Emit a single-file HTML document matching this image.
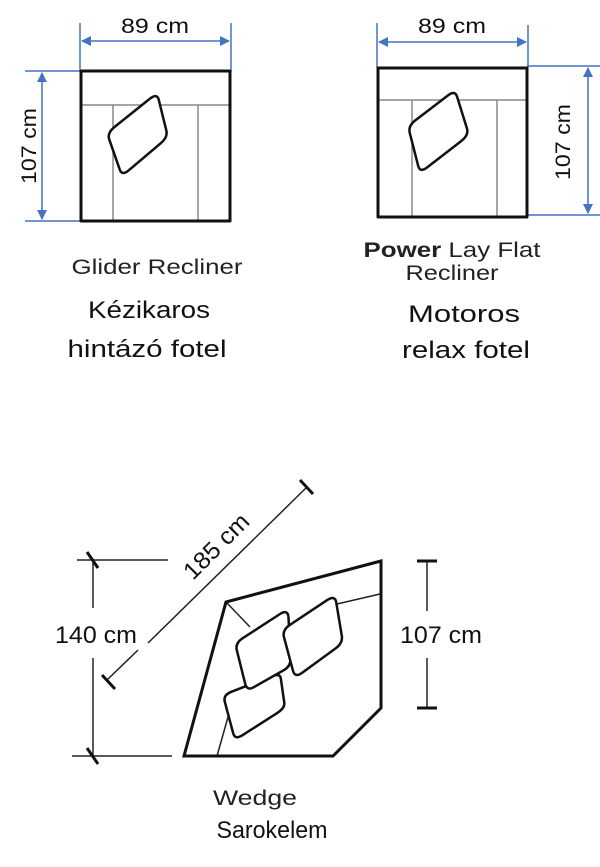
<!DOCTYPE html>
<html><head><meta charset="utf-8"><style>
html,body{margin:0;padding:0;background:#fff;}
svg{display:block;}
.a{font-family:"Liberation Sans",Arial,sans-serif;}
</style></head><body>
<svg width="600" height="867" viewBox="0 0 600 867" xmlns="http://www.w3.org/2000/svg">
<defs>
<marker id="ar" markerWidth="10" markerHeight="10" refX="9" refY="5" orient="auto-start-reverse" markerUnits="userSpaceOnUse">
<path d="M0,0 L10,5 L0,10 Z" fill="#4472c4"/></marker>
</defs>
<g fill="none" stroke="#4472c4" stroke-width="1.5">
<line x1="80" y1="23" x2="80" y2="72"/><line x1="231" y1="23" x2="231" y2="72"/>
<line x1="82" y1="41" x2="229" y2="41" marker-start="url(#ar)" marker-end="url(#ar)"/>
<line x1="25" y1="71" x2="98" y2="71"/><line x1="25" y1="221" x2="98" y2="221"/>
<line x1="42" y1="73" x2="42" y2="219" marker-start="url(#ar)" marker-end="url(#ar)"/>
<line x1="377" y1="23" x2="377" y2="68"/><line x1="528" y1="25" x2="528" y2="68"/>
<line x1="379" y1="42" x2="526" y2="42" marker-start="url(#ar)" marker-end="url(#ar)"/>
<line x1="527" y1="66" x2="600" y2="66"/><line x1="527" y1="215" x2="600" y2="215"/>
<line x1="588" y1="68" x2="588" y2="213" marker-start="url(#ar)" marker-end="url(#ar)"/>
</g>
<g fill="none" stroke="#888" stroke-width="1.5">
<line x1="81" y1="105" x2="230" y2="105"/><line x1="113" y1="105" x2="113" y2="221"/><line x1="198" y1="105" x2="198" y2="221"/>
<line x1="378" y1="100" x2="527" y2="100"/><line x1="412" y1="100" x2="412" y2="217"/><line x1="497" y1="100" x2="497" y2="217"/>
</g>
<g fill="none" stroke="#111" stroke-width="3" stroke-linejoin="round">
<rect x="81" y="71" width="149" height="150"/>
<rect x="378" y="68" width="149" height="149"/>
</g>
<g fill="#fff" stroke="#111" stroke-width="2.5" stroke-linejoin="round">
<path d="M114.5,127 L149.5,99 Q157,93 158.7,99.6 L166.3,130.4 Q168,137 161.1,142.9 L128.9,170.2 Q122,176 119.75,169.55 L109.25,139.45 Q107,133 114.5,127Z"/>
<path d="M415,120.6 L448,95.4 Q455,90 457.1,96.75 L466.9,128.25 Q469,135 461.65,140.7 L427.35,167.3 Q420,173 418.2,165.95 L409.8,133.05 Q408,126 415,120.6Z"/>
</g>
<g class="a" font-size="21" fill="#111" text-anchor="middle" lengthAdjust="spacingAndGlyphs">
<text x="155" y="33" textLength="68" lengthAdjust="spacingAndGlyphs">89 cm</text>
<text x="452" y="33" textLength="68" lengthAdjust="spacingAndGlyphs">89 cm</text>
<text transform="translate(36,146) rotate(-90)" textLength="76" lengthAdjust="spacingAndGlyphs">107 cm</text>
<text transform="translate(570,142) rotate(-90)" textLength="76" lengthAdjust="spacingAndGlyphs">107 cm</text>
</g>
<g class="a" font-size="21" fill="#222" text-anchor="middle">
<text x="157" y="274" textLength="171" lengthAdjust="spacingAndGlyphs">Glider Recliner</text>
<text x="452" y="257" textLength="177" lengthAdjust="spacingAndGlyphs"><tspan font-weight="bold">Power</tspan> Lay Flat</text>
<text x="452" y="280" textLength="93" lengthAdjust="spacingAndGlyphs">Recliner</text>
<text x="255" y="805" textLength="84" lengthAdjust="spacingAndGlyphs">Wedge</text>
</g>
<g class="a" font-size="24" fill="#111" text-anchor="middle">
<text x="149" y="318" textLength="122" lengthAdjust="spacingAndGlyphs">Kézikaros</text>
<text x="147" y="357" textLength="159" lengthAdjust="spacingAndGlyphs">hintázó fotel</text>
<text x="464" y="322" textLength="112" lengthAdjust="spacingAndGlyphs">Motoros</text>
<text x="466" y="358" textLength="128" lengthAdjust="spacingAndGlyphs">relax fotel</text>
<text x="272" y="838" textLength="111" lengthAdjust="spacingAndGlyphs">Sarokelem</text>
<text x="96" y="643" textLength="82" lengthAdjust="spacingAndGlyphs">140 cm</text>
<text x="441" y="643" textLength="82" lengthAdjust="spacingAndGlyphs">107 cm</text>
<text transform="translate(222,552) rotate(-45)" textLength="82" lengthAdjust="spacingAndGlyphs">185 cm</text>
</g>
<g stroke="#222" stroke-width="1.5" fill="none">
<line x1="77" y1="560" x2="168" y2="560"/><line x1="72" y1="756" x2="172" y2="756"/>
<line x1="93" y1="560" x2="93" y2="608"/><line x1="93" y1="658" x2="93" y2="756"/>
<line x1="148" y1="643" x2="307" y2="487"/><line x1="107" y1="680" x2="138" y2="650"/>
<line x1="427" y1="561" x2="427" y2="611"/><line x1="427" y1="658" x2="427" y2="708"/>
<line x1="226" y1="602" x2="250" y2="627"/><line x1="337" y1="604" x2="380" y2="594"/><line x1="217" y1="756" x2="228" y2="717"/>
</g>
<g stroke="#111" stroke-width="3" fill="none">
<line x1="87" y1="552" x2="98" y2="568"/><line x1="87" y1="748" x2="98" y2="764"/>
<line x1="300" y1="480" x2="313" y2="494"/><line x1="102" y1="675" x2="115" y2="689"/>
<line x1="417" y1="561" x2="437" y2="561"/><line x1="417" y1="708" x2="437" y2="708"/>
<polygon points="184,756 226,602 381,561 381,708 333,756" stroke-linejoin="miter"/>
</g>
<g fill="#fff" stroke="#111" stroke-width="2.5" stroke-linejoin="round">
<path d="M231.6,691.7 L271.4,676.3 Q280,673 280.8,678.3 L284.3,702.8 Q285,708 277.5,712.8 L242.5,735.2 Q235,740 233.2,733.3 L224.8,701.8 Q223,695 231.6,691.7Z"/>
<path d="M243,638 L280,614 Q288,609 288.5,617.5 L290.5,657.5 Q291,666 284.4,669.8 L253.6,687.3 Q247,691 245.2,683.8 L236.8,650.2 Q235,643 243,638Z"/>
<path d="M290,624.8 L327,600.2 Q335,595 336.2,602.2 L341.8,635.8 Q343,643 335.8,648.3 L302.2,672.8 Q295,678 293,670.8 L284,637.2 Q282,630 290,624.8Z"/>
</g>
</svg>
</body></html>
